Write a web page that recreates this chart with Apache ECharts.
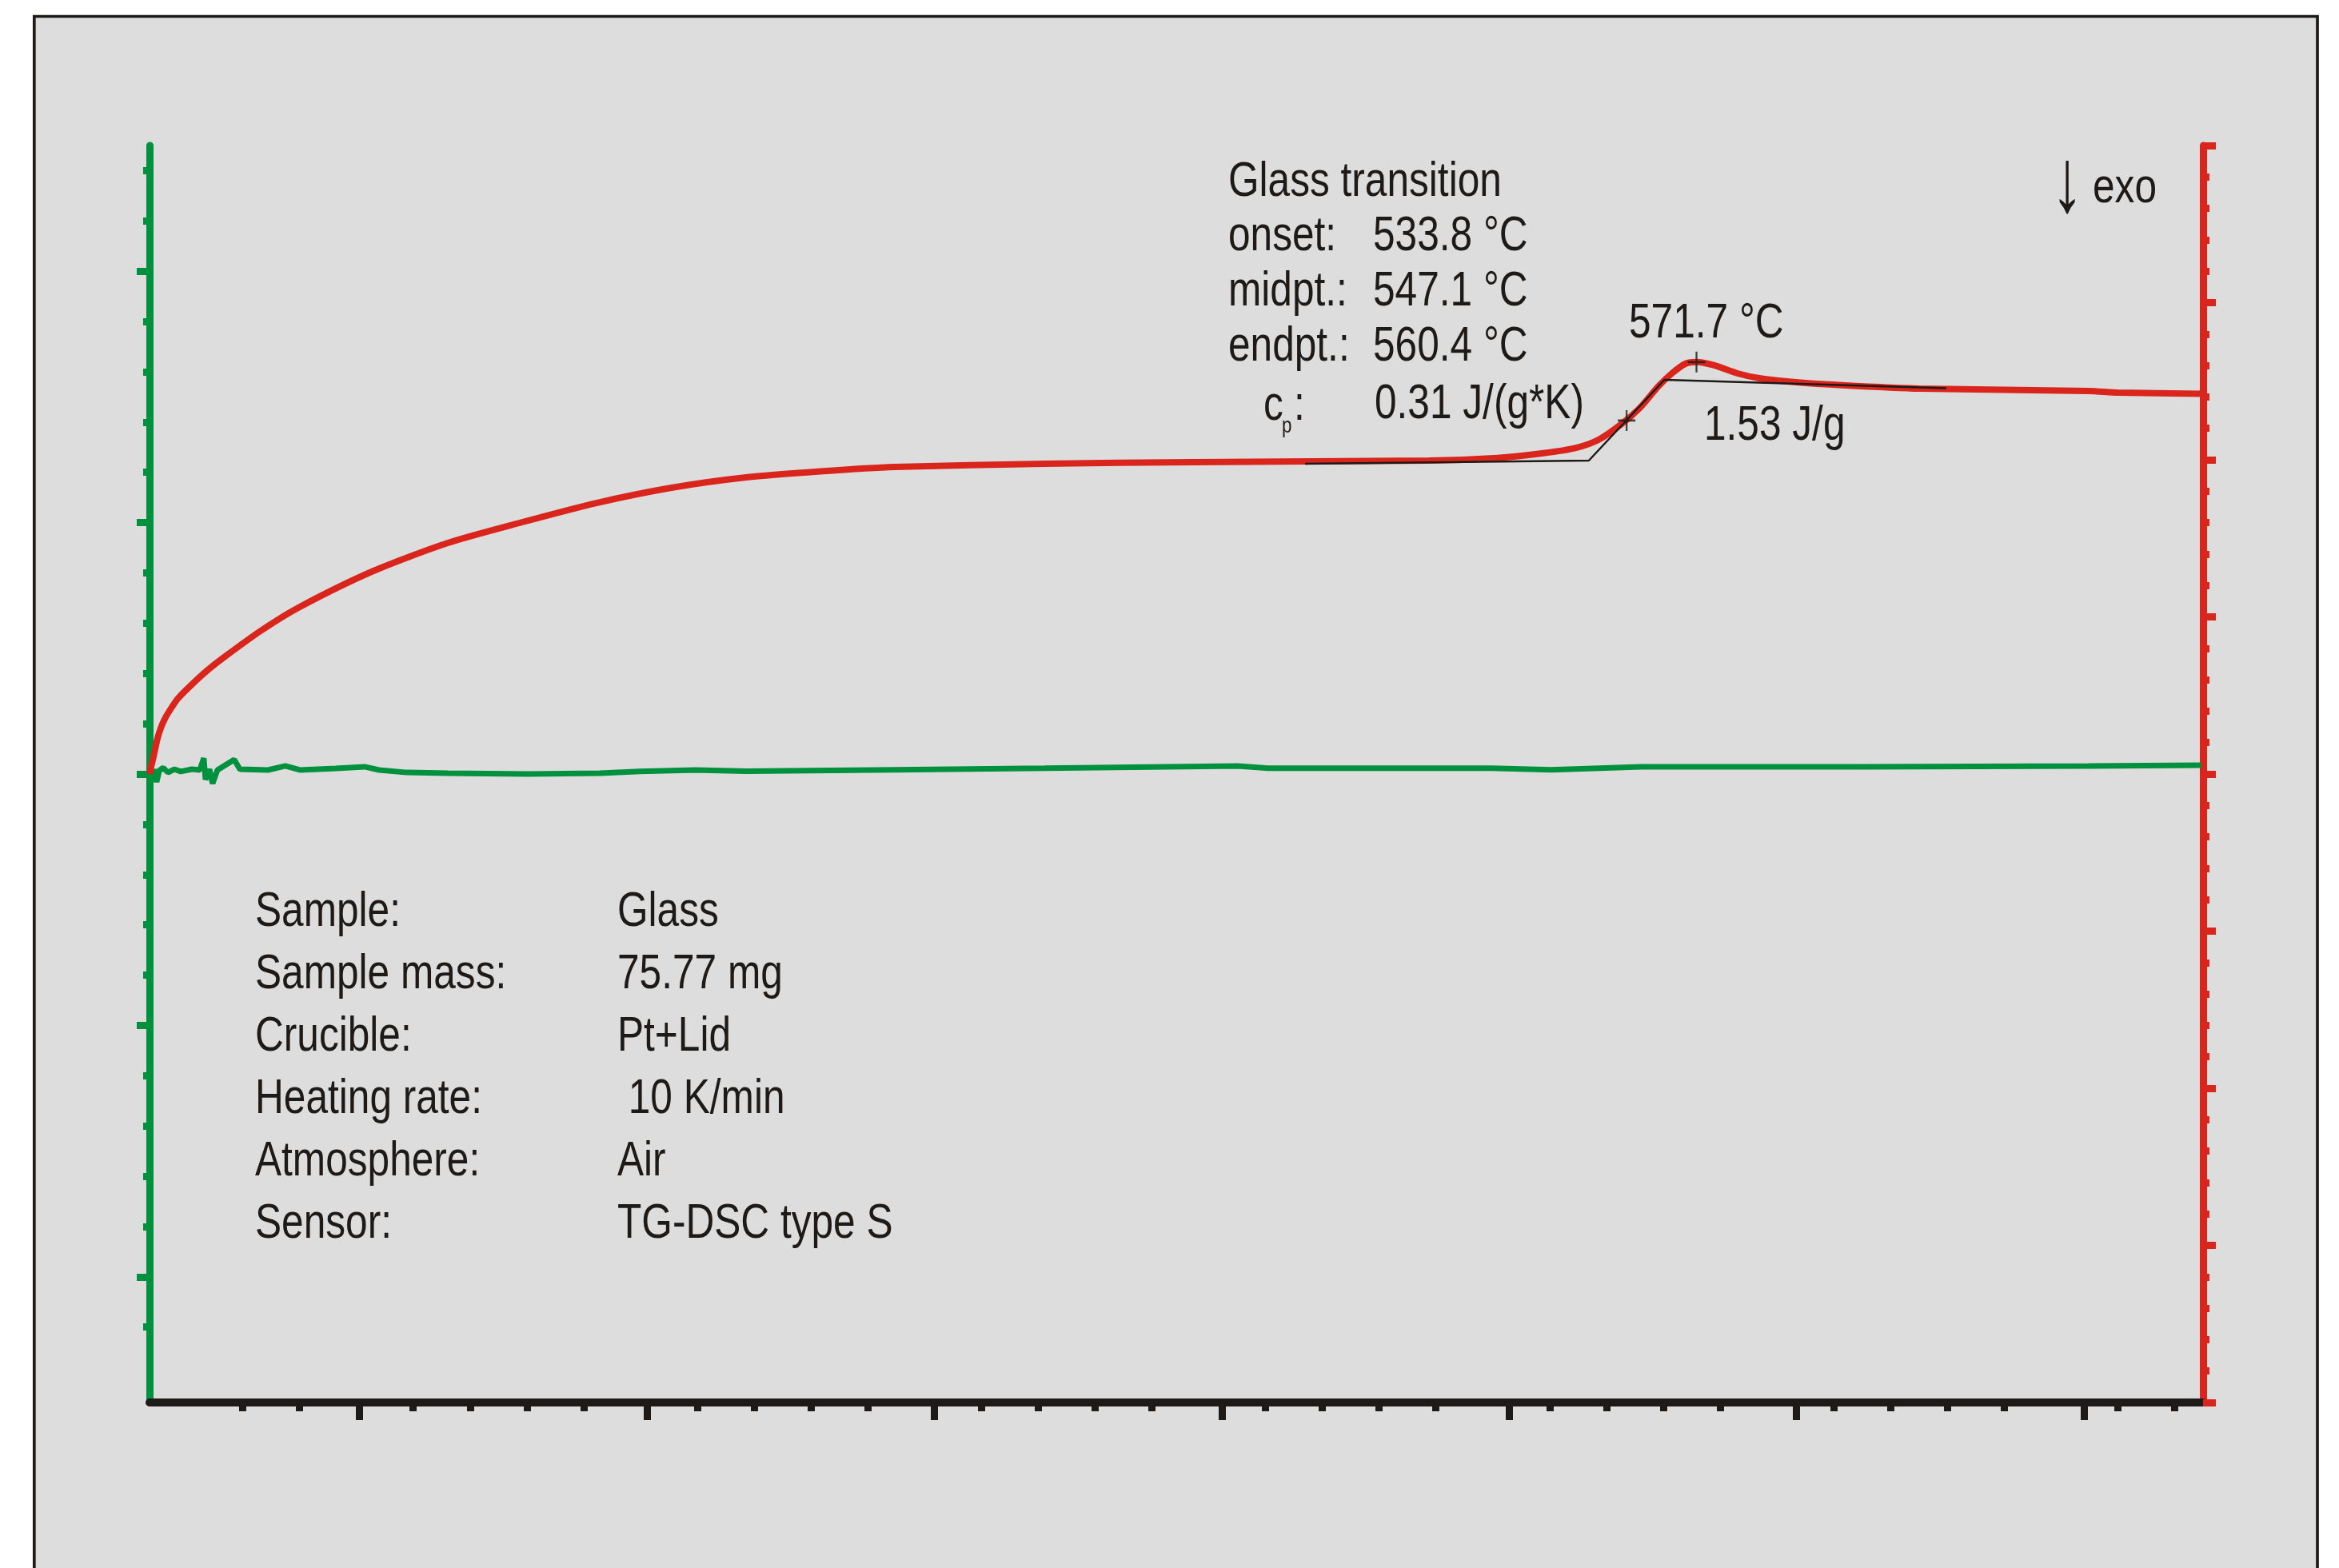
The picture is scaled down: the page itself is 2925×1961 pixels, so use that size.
<!DOCTYPE html>
<html>
<head>
<meta charset="utf-8">
<title>TG-DSC Glass</title>
<script src="https://cdn.jsdelivr.net/npm/echarts@6/dist/echarts.min.js"></script>
<style>
  html, body { margin: 0; padding: 0; background: #ffffff; }
  #chart { width: 2925px; height: 1961px; }
</style>
</head>
<body>
<div id="chart"></div>
<script>
// DSC signal (mW/mg) against sample temperature (°C)
const dscTemp = [27.2, 27.8, 28.5, 29.9, 31.1, 32.7, 35.1, 37.3, 42.1, 47.7, 53.4, 66.3, 79.6, 105.7, 132.2,
  158.4, 184.5, 210.9, 237.2, 263.3, 289.5, 342.2, 394.5, 477.5, 501.7, 517.8, 529.3, 537.2, 545.4,
  551.8, 558.3, 563.1, 567.9, 571.7, 577.7, 585.9, 593.8, 606.7, 623.0, 650.1, 709.8, 720.1, 749.4];
const dscSignal = [0.000, 0.0051, 0.0102, 0.0219, 0.0290, 0.0356, 0.0427, 0.0483, 0.0570, 0.0662, 0.0743, 0.0911, 0.1059, 0.1290, 0.1471,
  0.1603, 0.1725, 0.1822, 0.1888, 0.1926, 0.1954, 0.1975, 0.1985, 0.1995, 0.2012, 0.2042, 0.2076, 0.2127, 0.2229,
  0.2331, 0.2468, 0.2551, 0.2612, 0.2622, 0.2602, 0.2551, 0.2519, 0.2494, 0.2475, 0.2453, 0.2438, 0.2427, 0.2420];

// TG mass (%) against temperature (°C)
const tgTemp = [27.2, 28.0, 28.9, 29.7, 30.6, 32.0, 33.7, 35.9, 38.2, 42.1, 44.9, 46.3, 46.9, 48.3, 49.4, 51.1,
  57.0, 59.0, 68.9, 75.0, 80.1, 92.8, 102.9, 108.0, 117.8, 132.2, 160.3, 185.7, 199.7, 219.4, 237.2, 289.5,
  342.2, 410.3, 420.9, 499.6, 520.6, 552.1, 631.0, 709.7, 749.4];
const tgMass = [100.000, 99.978, 100.019, 99.968, 100.013, 100.025, 100.006, 100.019, 100.010, 100.019, 100.016, 100.063, 99.978, 100.019, 99.962, 100.016,
  100.057, 100.019, 100.016, 100.032, 100.016, 100.022, 100.029, 100.016, 100.006, 100.003, 100.000, 100.003, 100.010, 100.016, 100.011, 100.017,
  100.023, 100.032, 100.023, 100.023, 100.017, 100.029, 100.029, 100.032, 100.035];

// Glass transition evaluation (°C)
const gtOnset = 533.8;
const gtMidpoint = 547.1;
const gtEndpoint = 560.4;
const peakTemp = 571.7;
const gtCp = '0.31 J/(g*K)';
const peakArea = '1.53 J/g';

// Tangent construction of the step: baseline before, inflection tangent, baseline after
const tangentTemp = [433.9, gtOnset, gtEndpoint, 659.6];
const tangentSignal = [0.1975, 0.1995, 0.2509, 0.2455];

// Marked points: midpoint and peak
const markTemp = [gtMidpoint, peakTemp];
const markSignal = [0.2250, 0.2622];

// Axis ticks
const tempMajorTicks = [100, 200, 300, 400, 500, 600, 700];
const massMajorTicks = [98, 99, 100, 101, 102];
const dscMajorTicks = [-0.4, -0.3, -0.2, -0.1, 0, 0.1, 0.2, 0.3, 0.4];

function minorTicks(first, last, step, perMajor) {
  const out = [];
  const n = Math.round((last - first) / step);
  for (let i = 0; i <= n; i++) {
    const v = +(first + i * step).toFixed(4);
    if (Math.abs(Math.round(v / (step * perMajor)) * step * perMajor - v) > step / 10) out.push(v);
  }
  return out;
}
const tempMinorTicks = minorTicks(60, 740, 20, 5);
const massMinorTicks = minorTicks(97.8, 102.4, 0.2, 5);
const dscMinorTicks = minorTicks(-0.38, 0.38, 0.02, 5);

// Measurement conditions
const sampleLabels = ['Sample:', 'Sample mass:', 'Crucible:', 'Heating rate:', 'Atmosphere:', 'Sensor:'];
const sampleValues = ['Glass', '75.77 mg', 'Pt+Lid', ' 10 K/min', 'Air', 'TG-DSC type S'];

const ink = '#1e1a17';
const green = '#00913f';
const red = '#da251d';
const panel = '#dddddd';
const FS = 62;
const NARROW = 0.8;

function zip(a, b) { return a.map((v, i) => [v, b[i]]); }

// Text placed by its baseline
function label(str, x, baseline, extra) {
  const o = extra || {};
  const size = o.size || FS;
  return {
    type: 'text',
    x: x,
    y: o.centerY !== undefined ? o.centerY : baseline - 0.3465 * size,
    scaleX: o.scaleX || NARROW,
    scaleY: o.scaleY || 1,
    z: 100,
    silent: true,
    style: {
      text: str,
      font: size + 'px "Liberation Sans", Arial, sans-serif',
      fill: ink,
      textAlign: o.align || 'left',
      align: o.align || 'left',
      textVerticalAlign: 'middle',
      verticalAlign: 'middle'
    }
  };
}

const texts = [];
// Glass transition block
const dy = 5;
texts.push(label('Glass transition', 1536, 244 + dy));
const gtRows = [['onset:', gtOnset, 312], ['midpt.:', gtMidpoint, 381.5], ['endpt.:', gtEndpoint, 450.5]];
gtRows.forEach(r => {
  texts.push(label(r[0], 1536, r[2] + dy));
  texts.push(label(r[1].toFixed(1) + ' °C', 1717, r[2] + dy));
});
texts.push(label('c', 1580, 527 + 2));
texts.push(label('p', 1603, 543, { size: 28 }));
texts.push(label(':', 1618, 527 + 2));
texts.push(label(gtCp, 1719, 525 + 2));
texts.push(label(peakTemp.toFixed(1) + ' °C', 2037, 421.5 + dy));
texts.push(label(peakArea, 2131, 549.5 + dy));
texts.push(label('↓', 2585, 0, { align: 'center', size: 90, scaleX: 0.9, scaleY: 1.25, centerY: 233 }));
texts.push(label('exo', 2617, 252.5 + dy));
// Conditions block
sampleLabels.forEach((s, i) => {
  const b = 1162 + i * 78;
  texts.push(label(s, 319, b));
  texts.push(label(sampleValues[i], 772, b));
});

const chart = echarts.init(document.getElementById('chart'), null, { renderer: 'canvas' });

function hiddenLabel() { return { show: false }; }

chart.setOption({
  animation: false,
  backgroundColor: '#ffffff',
  grid: { left: 187, right: 170, top: 182, bottom: 207, containLabel: false },
  xAxis: [
    {
      type: 'value', min: 27.2, max: 750, position: 'bottom',
      axisLine: { show: true, onZero: false, lineStyle: { color: ink, width: 10 } },
      axisTick: { show: true, customValues: tempMinorTicks, length: 11, lineStyle: { color: ink, width: 9 } },
      axisLabel: hiddenLabel(), splitLine: { show: false }
    },
    {
      type: 'value', min: 27, max: 741.4, position: 'bottom',
      axisLine: { show: false, onZero: false },
      axisTick: { show: true, customValues: tempMajorTicks, length: 22, lineStyle: { color: ink, width: 9 } },
      axisLabel: hiddenLabel(), splitLine: { show: false }
    }
  ],
  yAxis: [
    {
      type: 'value', min: 97.5, max: 102.5, position: 'left',
      axisLine: { show: true, onZero: false, lineStyle: { color: green, width: 9 } },
      axisTick: { show: true, customValues: massMajorTicks, length: 16, lineStyle: { color: green, width: 9 } },
      axisLabel: hiddenLabel(), splitLine: { show: false }
    },
    {
      type: 'value', min: 97.5, max: 102.5, position: 'left',
      axisLine: { show: false, onZero: false },
      axisTick: { show: true, customValues: massMinorTicks, length: 8, lineStyle: { color: green, width: 9 } },
      axisLabel: hiddenLabel(), splitLine: { show: false }
    },
    {
      type: 'value', min: -0.4, max: 0.4, position: 'right',
      axisLine: { show: true, onZero: false, lineStyle: { color: red, width: 9 } },
      axisTick: { show: true, customValues: dscMajorTicks, length: 16, lineStyle: { color: red, width: 9 } },
      axisLabel: hiddenLabel(), splitLine: { show: false }
    },
    {
      type: 'value', min: -0.4, max: 0.4, position: 'right',
      axisLine: { show: false, onZero: false },
      axisTick: { show: true, customValues: dscMinorTicks, length: 8, lineStyle: { color: red, width: 9 } },
      axisLabel: hiddenLabel(), splitLine: { show: false }
    }
  ],
  series: [
    {
      name: 'TG', type: 'line', xAxisIndex: 0, yAxisIndex: 0,
      data: zip(tgTemp, tgMass), showSymbol: false, smooth: false, z: 3,
      lineStyle: { color: green, width: 7 }
    },
    {
      name: 'DSC', type: 'line', xAxisIndex: 0, yAxisIndex: 2,
      data: zip(dscTemp, dscSignal), showSymbol: false, smooth: 0.25, z: 4,
      lineStyle: { color: red, width: 8 }
    },
    {
      name: 'Tangents', type: 'line', xAxisIndex: 0, yAxisIndex: 2,
      data: zip(tangentTemp, tangentSignal), showSymbol: false, smooth: false, z: 5,
      lineStyle: { color: ink, width: 2.5 }
    },
    {
      name: 'Marks', type: 'scatter', xAxisIndex: 0, yAxisIndex: 2,
      data: zip(markTemp, markSignal), z: 6,
      symbol: 'path://M10,0 L10,26 M0,13 L20,13', symbolSize: [22, 26],
      itemStyle: { color: 'rgba(0,0,0,0)', borderColor: ink, borderWidth: 2.5 }
    }
  ],
  graphic: {
    elements: [
      {
        type: 'rect', z: -10, silent: true,
        shape: { x: 42.8, y: 20.5, width: 2855.2, height: 2100 },
        style: { fill: panel, stroke: ink, lineWidth: 3.7 }
      }
    ].concat(texts)
  }
});
</script>
</body>
</html>
